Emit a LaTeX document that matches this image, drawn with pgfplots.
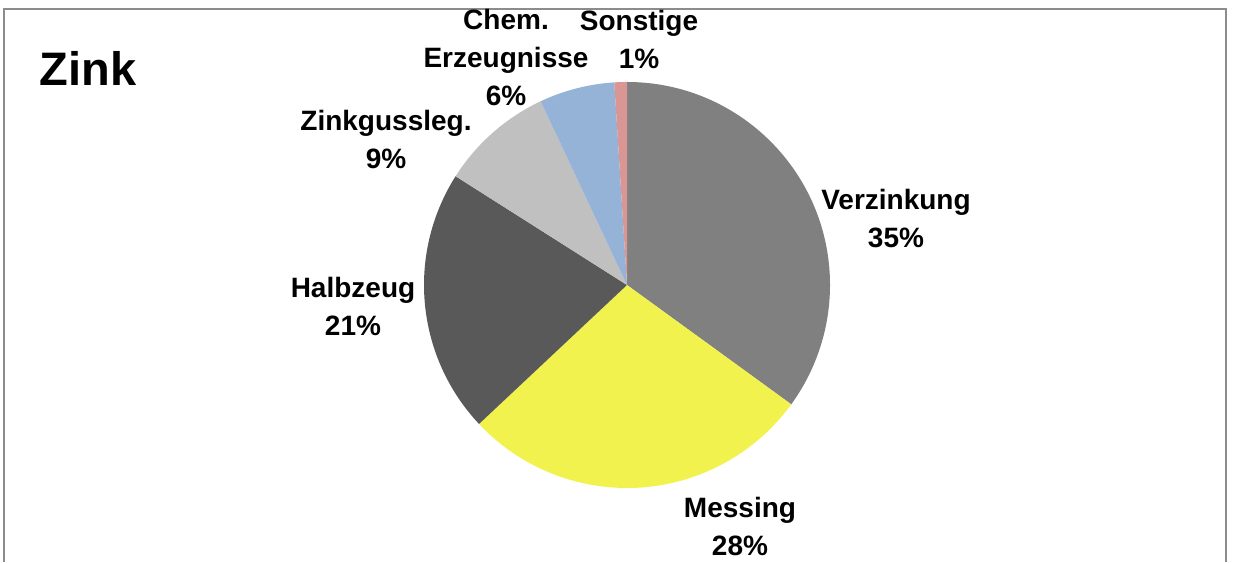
\documentclass[border=0pt]{standalone}
\usepackage{pgfplots}
\usepackage{pgfplotstable}
\pgfplotsset{compat=1.18}
\usepackage{fontspec}
\setmainfont{Liberation Sans}

\definecolor{cVerz}{HTML}{808080}
\definecolor{cMess}{HTML}{F2F24F}
\definecolor{cHalb}{HTML}{595959}
\definecolor{cGuss}{HTML}{C0C0C0}
\definecolor{cChem}{HTML}{95B3D7}
\definecolor{cSons}{HTML}{D99694}
\definecolor{frame}{HTML}{8C8C8C}

% share in percent, clockwise from 12 o'clock
\pgfplotstableread{
name        value color
Verzinkung  35    cVerz
Messing     28    cMess
Halbzeug    21    cHalb
Zinkguss    9     cGuss
Chem        6     cChem
Sonstige    1     cSons
}\zinkdata

\begin{document}
\begin{tikzpicture}[
    lbl/.style={font=\fontsize{14bp}{19bp}\selectfont\bfseries, align=center},
]
\begin{axis}[
    x=0.5bp, y=0.5bp,
    xmin=0, xmax=1234, ymin=0, ymax=562,
    hide axis, clip=false,
]
    \path (axis cs:0,0) rectangle (axis cs:1234,562);
    % frame (bottom edge is cut off)
    \draw[frame, line width=1bp] (axis cs:4,0) -- (axis cs:4,553) -- (axis cs:1226,553) -- (axis cs:1226,0);

    % slices
    \def\acc{90}
    \pgfplotsforeachungrouped \i in {0,...,5}{%
        \pgfplotstablegetelem{\i}{value}\of\zinkdata
        \pgfmathsetmacro\endang{\acc-3.6*\pgfplotsretval}
        \pgfplotstablegetelem{\i}{color}\of\zinkdata
        \edef\temp{\noexpand\fill[\pgfplotsretval] (axis cs:627,277) -- ++(\acc:101.5bp)
            arc[start angle=\acc, end angle=\endang, radius=101.5bp] -- cycle;}%
        \temp
        \let\acc\endang
    }

    \node[font=\fontsize{23.5bp}{28bp}\selectfont\bfseries] at (axis cs:88,494) {Zink};
    \node[lbl] at (axis cs:896,343) {Verzinkung\\35\%};
    \node[lbl] at (axis cs:740,36) {Messing\\28\%};
    \node[lbl] at (axis cs:353,256) {Halbzeug\\21\%};
    \node[lbl] at (axis cs:386,422) {Zinkgussleg.\\9\%};
    \node[lbl] at (axis cs:506,504) {Chem.\\Erzeugnisse\\6\%};
    \node[lbl] at (axis cs:639,523) {Sonstige\\1\%};
\end{axis}
\end{tikzpicture}
\end{document}
